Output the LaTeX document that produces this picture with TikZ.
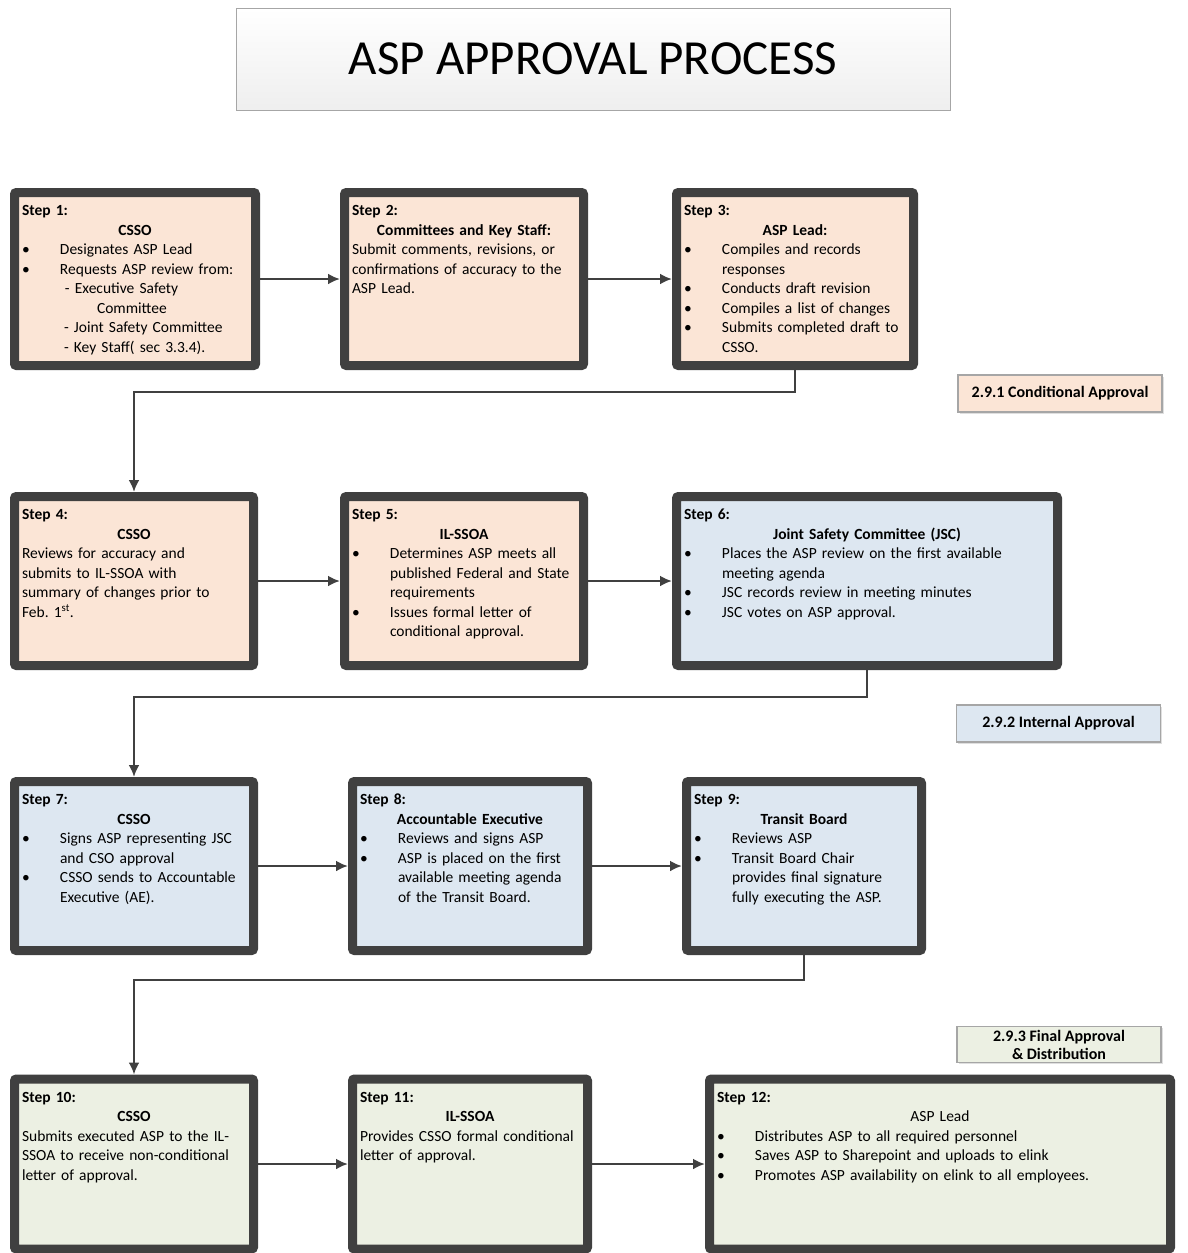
\documentclass[tikz,border=0pt]{standalone}
\usepackage{fontspec}
\setmainfont{Carlito}
\usepackage{tikz}
\usetikzlibrary{arrows.meta,shadows}
\definecolor{peach}{HTML}{FBE5D6}
\definecolor{paleblue}{HTML}{DDE7F1}
\definecolor{palegreen}{HTML}{ECF0E3}
\definecolor{boxgray}{HTML}{404040}
\definecolor{taggray}{HTML}{A6A6A6}
\tikzset{
  flowarrow/.style={-{Latex[length=12pt,width=11pt]}, line width=2.5pt, draw=boxgray},
  stepbox/.style={draw=boxgray, line width=9pt, rounded corners=2pt, fill=#1, inner xsep=7.5pt, inner ysep=12pt, outer sep=4.5pt, align=left, text height=11pt},
  phasetag/.style={draw=taggray, line width=1.2pt, fill=#1, font=\fontsize{16}{18}\selectfont\bfseries, minimum width=204pt, minimum height=37pt, align=center, drop shadow={opacity=0.25, shadow xshift=1.5pt, shadow yshift=-1.5pt}},
  titlebox/.style={draw=taggray, line width=1pt, top color=white, bottom color=gray!13, minimum width=714pt, minimum height=102pt, font=\fontsize{49}{57}\selectfont}
}
\newcommand{\stephead}[2]{\textbf{#1}\par\centerline{\textbf{#2}}}
\newcommand{\bul}[1]{\par\hangindent=38pt\hangafter=1\noindent\makebox[38pt][l]{\textbullet}#1\par}
\newcommand{\plainline}[1]{\par\noindent #1\par}

\begin{document}
\begin{tikzpicture}[x=1pt, y=-1pt, >=Latex, every node/.style={font=\fontsize{15.5}{19.5}\selectfont}]
  \useasboundingbox (0,0) rectangle (1187,1253);

  \node[titlebox] (title) at (593,59) {ASP APPROVAL PROCESS};

  % row 1
  \node[stepbox=peach, text width=226pt, text depth=138pt] (s1) at (135,279) {\stephead{Step 1:}{CSSO}
    \bul{Designates ASP Lead}
    \bul{Requests ASP review from:}
    \plainline{\hspace*{43pt}-  Executive Safety}
    \plainline{\hspace*{75pt}Committee}
    \plainline{\hspace*{42pt}- Joint Safety Committee}
    \plainline{\hspace*{42pt}- Key Staff( sec 3.3.4).}};
  \node[stepbox=peach, text width=224pt, text depth=138pt] (s2) at (464,279) {\stephead{Step 2:}{Committees and Key Staff:}
    \plainline{Submit comments, revisions, or\break confirmations of accuracy to the\break ASP Lead.}};
  \node[stepbox=peach, text width=222pt, text depth=138pt] (s3) at (795,279) {\stephead{Step 3:}{ASP Lead:}
    \bul{Compiles and records\break responses}
    \bul{Conducts draft revision}
    \bul{Compiles a list of changes}
    \bul{Submits completed draft to\break CSSO.}};

  % row 2
  \node[stepbox=peach, text width=224pt, text depth=134pt] (s4) at (134,581) {\stephead{Step 4:}{CSSO}
    \plainline{Reviews for accuracy and\break submits to IL-SSOA with\break summary of changes prior to\break Feb.\ 1\textsuperscript{st}.}};
  \node[stepbox=peach, text width=224pt, text depth=134pt] (s5) at (464,581) {\stephead{Step 5:}{IL-SSOA}
    \bul{Determines ASP meets all\break published Federal and State\break requirements}
    \bul{Issues formal letter of\break conditional approval.}};
  \node[stepbox=paleblue, text width=366pt, text depth=134pt] (s6) at (867,581) {\stephead{Step 6:}{Joint Safety Committee (JSC)}
    \bul{Places the ASP review on the first available\break meeting agenda}
    \bul{JSC records review in meeting minutes}
    \bul{JSC votes on ASP approval.}};

  % row 3
  \node[stepbox=paleblue, text width=224pt, text depth=134pt] (s7) at (134,866) {\stephead{Step 7:}{CSSO}
    \bul{Signs ASP representing JSC\break and CSO approval}
    \bul{CSSO sends to Accountable\break Executive (AE).}};
  \node[stepbox=paleblue, text width=220pt, text depth=134pt] (s8) at (470,866) {\stephead{Step 8:}{Accountable Executive}
    \bul{Reviews and signs ASP}
    \bul{ASP is placed on the first\break available meeting agenda\break of the Transit Board.}};
  \node[stepbox=paleblue, text width=220pt, text depth=134pt] (s9) at (804,866) {\stephead{Step 9:}{Transit Board}
    \bul{Reviews ASP}
    \bul{Transit Board Chair\break provides final signature\break fully executing the ASP.}};

  % row 4
  \node[stepbox=palegreen, text width=224pt, text depth=135pt] (s10) at (134,1164) {\stephead{Step 10:}{CSSO}
    \plainline{Submits executed ASP to the IL-\break SSOA to receive non-conditional\break letter of approval.}};
  \node[stepbox=palegreen, text width=220pt, text depth=135pt] (s11) at (470,1164) {\stephead{Step 11:}{IL-SSOA}
    \plainline{Provides CSSO formal conditional\break letter of approval.}};
  \node[stepbox=palegreen, text width=446pt, text depth=135pt] (s12) at (940,1164) {\textbf{Step 12:}\par\centerline{ASP Lead}
    \bul{Distributes ASP to all required personnel}
    \bul{Saves ASP to Sharepoint and uploads to elink}
    \bul{Promotes ASP availability on elink\ to all employees.}};

  % phase tags
  \node[phasetag=peach] (tag1) at (1060,393.5) {2.9.1 Conditional Approval};
  \node[phasetag=paleblue] (tag2) at (1058.5,723.5) {2.9.2 Internal Approval};
  \node[phasetag=palegreen, minimum height=35pt] (tag3) at (1059,1044.5) {2.9.3 Final Approval\\ \& Distribution};

  \draw[flowarrow] (s1) -- (s2);
  \draw[flowarrow] (s2) -- (s3);
  \draw[flowarrow] (s3.south) -- ++(0,22) -| (s4.north);
  \draw[flowarrow] (s4) -- (s5);
  \draw[flowarrow] (s5) -- (s6);
  \draw[flowarrow] (s6.south) -- ++(0,27) -| (s7.north);
  \draw[flowarrow] (s7) -- (s8);
  \draw[flowarrow] (s8) -- (s9);
  \draw[flowarrow] (s9.south) -- ++(0,25) -| (s10.north);
  \draw[flowarrow] (s10) -- (s11);
  \draw[flowarrow] (s11) -- (s12);
\end{tikzpicture}
\end{document}
